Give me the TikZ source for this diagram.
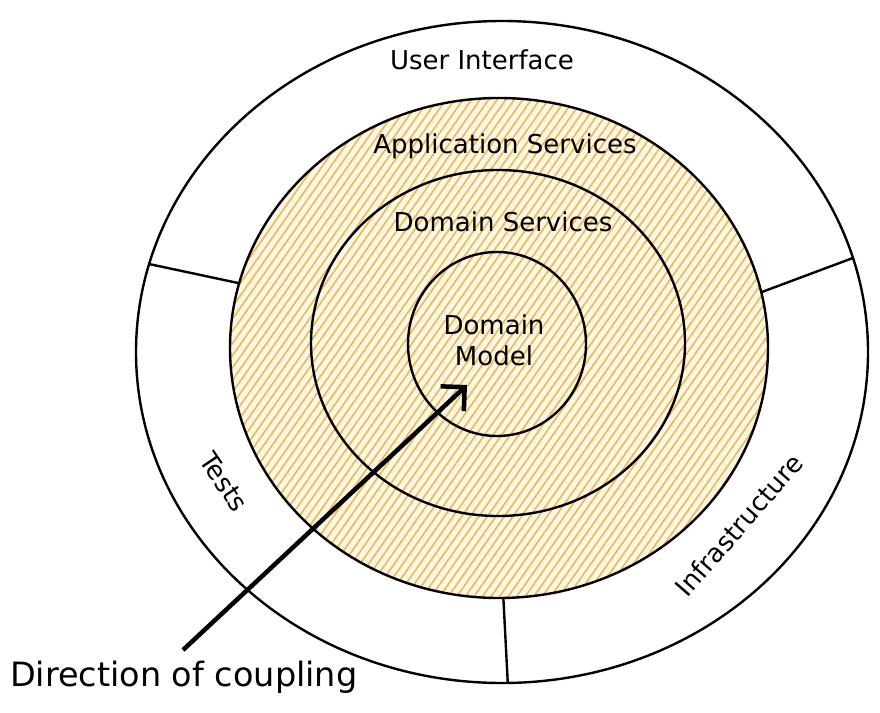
\documentclass[tikz,border=0pt]{standalone}
\usepackage{fontspec}
\setmainfont{DejaVu Sans}
\usetikzlibrary{shapes.geometric,patterns.meta,arrows.meta}
\definecolor{hatch}{RGB}{231,190,92}
\definecolor{hatchbg}{RGB}{253,246,228}

\begin{document}
\begin{tikzpicture}[x=1pt, y=-1pt, every node/.style={inner sep=0pt, outer sep=0pt},
  ring/.style={ellipse, draw, line width=2.4pt},
  lbl/.style={font=\fontsize{26}{31}\selectfont}]
\useasboundingbox (0,0) rectangle (880,712);
\node[ring, minimum width=732pt, minimum height=662pt] (ui) at (502,352) {};
\node[ring, minimum width=538pt, minimum height=500pt, preaction={fill=hatchbg},
  pattern={Lines[angle=55,distance=7pt,line width=1.7pt]}, pattern color=hatch] (app) at (499,348) {};
\node[ring, minimum width=374pt, minimum height=346pt] (dom) at (498,343) {};
\node[ring, minimum width=178pt, minimum height=184pt] (model) at (497,344) {};
\draw[line width=2.4pt] (ui.166) -- (app.166);
\draw[line width=2.4pt] (ui.15) -- (app.12);
\draw[line width=2.4pt] (ui.271) -- (app.271);
\node[lbl] (uitext) at (482,60) {User Interface};
\node[lbl] (apptext) at (505,146) {Application Services};
\node[lbl] (domtext) at (503,222) {Domain Services};
\node[lbl, align=center] (modeltext) at (494,340) {Domain\\Model};
\node[lbl, rotate=-56] (tests) at (224,482) {Tests};
\node[lbl, rotate=49] (infra) at (739,525) {Infrastructure};
\node[font=\fontsize{33.5}{40}\selectfont, anchor=west] (coupling) at (10,677) {Direction of coupling};
\coordinate (tail) at (183,650);
\coordinate (tip) at (467,385);
\draw[line width=4.5pt, -{Straight Barb[length=17pt,width=34pt]}] (tail) -- (tip);
\end{tikzpicture}
\end{document}
